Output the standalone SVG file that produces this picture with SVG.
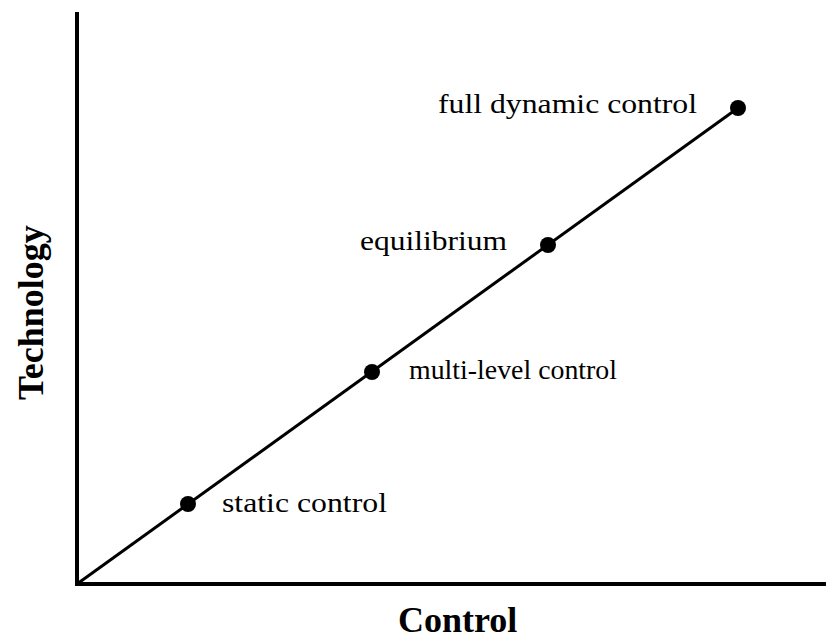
<svg xmlns="http://www.w3.org/2000/svg" width="829" height="642" viewBox="0 0 829 642">
<style>
.lbl{font-family:"Liberation Serif","Times New Roman",serif;font-size:28px;fill:#000}
.ax{font-family:"Liberation Serif","Times New Roman",serif;font-size:36px;font-weight:bold;fill:#000}
.axis{stroke:#000;stroke-width:4;fill:none}
.trend{stroke:#000;stroke-width:3;fill:none}
.dot{fill:#000}
</style>
<rect width="829" height="642" fill="#fff"/>
<g id="connectors">
<polyline class="axis" points="77,12 77,584 826,584"/>
<line class="trend" x1="77" y1="584" x2="738" y2="108"/>
</g>
<g id="static-control">
<circle class="dot" cx="188" cy="504" r="8"/>
<text class="lbl" x="222" y="512" textLength="165" lengthAdjust="spacingAndGlyphs">static control</text>
</g>
<g id="multi-level-control">
<circle class="dot" cx="372" cy="372" r="8"/>
<text class="lbl" x="409" y="379" textLength="208" lengthAdjust="spacingAndGlyphs">multi-level control</text>
</g>
<g id="equilibrium">
<circle class="dot" cx="548" cy="245" r="8"/>
<text class="lbl" x="360" y="250" textLength="147" lengthAdjust="spacingAndGlyphs">equilibrium</text>
</g>
<g id="full-dynamic-control">
<circle class="dot" cx="738" cy="108" r="8"/>
<text class="lbl" x="438" y="113" textLength="259" lengthAdjust="spacingAndGlyphs">full dynamic control</text>
</g>
<g id="x-label">
<text class="ax" x="398" y="632">Control</text>
</g>
<g id="y-label">
<text class="ax" transform="translate(43,400) rotate(-90)">Technology</text>
</g>
</svg>
